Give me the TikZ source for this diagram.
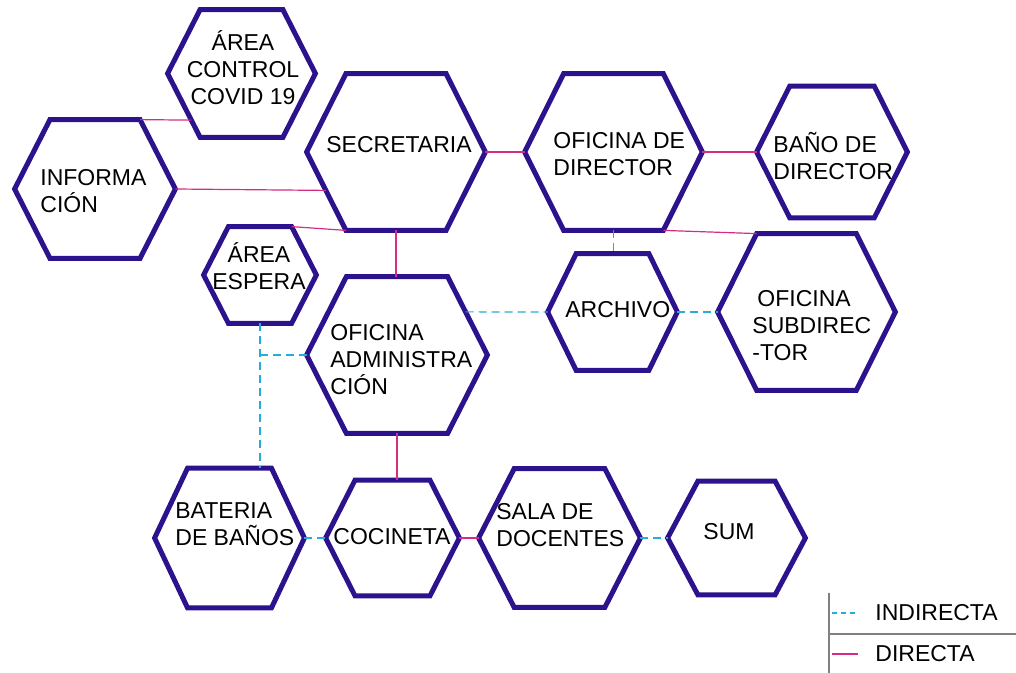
\documentclass[tikz,border=0pt]{standalone}
\usepackage{fontspec}
\setmainfont{Liberation Sans}
\usetikzlibrary{calc}
\definecolor{hexblue}{RGB}{44,18,140}
\definecolor{directa}{RGB}{214,44,132}
\definecolor{indirecta}{RGB}{38,172,216}
\tikzset{
  room/.style 2 args={draw=none, inner sep=0pt, minimum width=#1, minimum height=#2},
  hexborder/.style={draw=hexblue, line width=2.5pt, line join=miter},
  lbl/.style={inner sep=0pt, font=\fontsize{11.5}{13.5}\selectfont, align=left, anchor=west},
  dlink/.style={draw=directa, line width=0.6pt},
  ilink/.style={draw=indirecta, line width=0.6pt, dash pattern=on 4pt off 2.5pt},
  keyline/.style={draw=gray, line width=0.7pt},
}

\begin{document}
\begin{tikzpicture}[x=0.5pt, y=-0.5pt]
  \useasboundingbox (0,0) rectangle (1016,673);
  \node[room={73.5pt}{63.5pt}] (covid)   at (241.5,73.5) {};
  \node[room={80pt}{69pt}]     (info)    at (95,189)     {};
  \node[room={89pt}{78pt}]     (sec)     at (396,152)    {};
  \node[room={56pt}{48pt}]     (espera)  at (260,275)    {};
  \node[room={88.5pt}{78pt}]   (dir)     at (613.5,152)  {};
  \node[room={75pt}{65.5pt}]   (bano)    at (832,152)    {};
  \node[room={64.5pt}{58pt}]   (archivo) at (612.5,312)  {};
  \node[room={88.5pt}{78pt}]   (subdir)  at (806.5,312)  {};
  \node[room={90pt}{78pt}]     (admin)   at (397,355)    {};
  \node[room={74.5pt}{69.5pt}] (bateria) at (229.5,538)  {};
  \node[room={66.5pt}{57.5pt}] (cocina)  at (392.5,538)  {};
  \node[room={80.5pt}{69pt}]   (sala)    at (559.5,538)  {};
  \node[room={68.5pt}{56.5pt}] (sum)     at (736.5,538)  {};

  \foreach \n in {covid,info,sec,espera,dir,bano,archivo,subdir,admin,bateria,cocina,sala,sum} {
    \coordinate (\n-tl) at ($(\n.north west)!0.22!(\n.north east)$);
    \coordinate (\n-tr) at ($(\n.north west)!0.78!(\n.north east)$);
    \coordinate (\n-bl) at ($(\n.south west)!0.22!(\n.south east)$);
    \coordinate (\n-br) at ($(\n.south west)!0.78!(\n.south east)$);
    \draw[hexborder] (\n.west) -- (\n-tl) -- (\n-tr) -- (\n.east) -- (\n-br) -- (\n-bl) -- cycle;
  }

  \node[lbl, anchor=center, align=center] (covid-t) at (243,68) {ÁREA\\CONTROL\\COVID 19};
  \node[lbl] (info-t)    at (40,191)  {INFORMA\\CIÓN};
  \node[lbl] (sec-t)     at (326,145) {SECRETARIA};
  \node[lbl, anchor=center, align=center] (espera-t) at (259,266) {ÁREA\\ESPERA};
  \node[lbl] (dir-t)     at (553,154) {OFICINA DE\\DIRECTOR};
  \node[lbl] (bano-t)    at (773,156) {BAÑO DE\\DIRECTOR};
  \node[lbl] (archivo-t) at (565,310) {ARCHIVO};
  \node[lbl] (subdir-t)  at (752,326) {\hspace*{2.5pt}OFICINA\\SUBDIREC\\-TOR};
  \node[lbl] (admin-t)   at (330,360) {OFICINA\\ADMINISTRA\\CIÓN};
  \node[lbl] (bateria-t) at (175,524) {BATERIA\\DE BAÑOS};
  \node[lbl] (cocina-t)  at (333,537) {COCINETA};
  \node[lbl] (sala-t)    at (496,525) {SALA DE\\DOCENTES};
  \node[lbl] (sum-t)     at (703,532) {SUM};

  \draw[dlink] (info-tr) -- ($(covid.west)!0.73!(covid-bl)$);
  \draw[dlink] (info.east) -- ($(sec.west)!0.49!(sec-bl)$);
  \draw[dlink] (espera-tr) -- (sec-bl);
  \draw[dlink] (sec.south) -- (sec.south |- admin.north);
  \draw[dlink] (sec.east) -- (dir.west);
  \draw[dlink] (dir.east) -- (bano.west);
  \draw[dlink] (dir-br) -- (subdir-tl);
  \draw[ilink] (dir.south) -- (dir.south |- archivo.north);
  \draw[ilink] ($(admin.east)!0.55!(admin-tr)$) -- (archivo.west);
  \draw[ilink] (archivo.east) -- (subdir.west);
  \draw[ilink] (espera.south) -- (espera.south |- bateria.north);
  \draw[ilink] (admin.west -| espera.south) -- (admin.west);
  \draw[ilink] (bateria.east) -- (cocina.west);
  \draw[dlink] (admin.south) -- (admin.south |- cocina.north);
  \draw[dlink] (cocina.east) -- (sala.west);
  \draw[ilink] (sala.east) -- (sum.west);

  \draw[keyline] (829,593) -- (829,673);
  \draw[keyline] (829,634) -- (1016,634);
  \coordinate (ki-a) at (832,613);
  \coordinate (ki-b) at (858,613);
  \coordinate (kd-a) at (832,654);
  \coordinate (kd-b) at (858,654);
  \draw[ilink, dash pattern=on 2.5pt off 2pt] (ki-a) -- (ki-b);
  \draw[dlink] (kd-a) -- (kd-b);
  \node[lbl] (key-ind) at (875,613) {INDIRECTA};
  \node[lbl] (key-dir) at (875,654) {DIRECTA};
\end{tikzpicture}
\end{document}
